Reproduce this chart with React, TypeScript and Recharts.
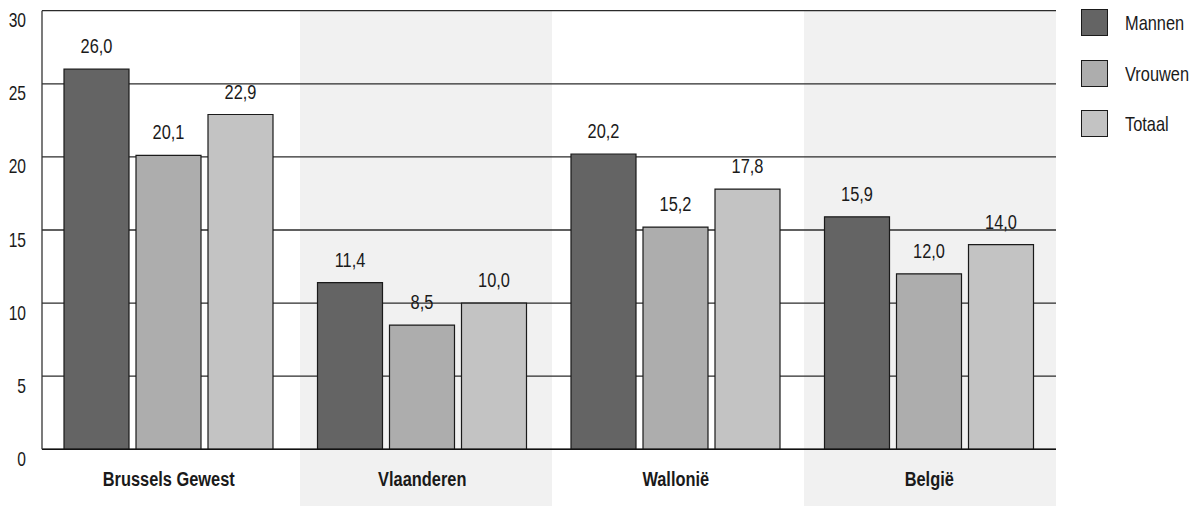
import React from "react";
import {
  BarChart,
  Bar,
  XAxis,
  YAxis,
  CartesianGrid,
  ReferenceArea,
  LabelList,
  Legend,
} from "recharts";

const categories = ["Brussels Gewest", "Vlaanderen", "Wallonië", "België"];
const mannen = [26.0, 11.4, 20.2, 15.9];
const vrouwen = [20.1, 8.5, 15.2, 12.0];
const totaal = [22.9, 10.0, 17.8, 14.0];
const yTicks = [0, 5, 10, 15, 20, 25, 30];
const shadedCategories = ["Vlaanderen", "België"];

const seriesNames = ["Mannen", "Vrouwen", "Totaal"];
const seriesColors = ["#646464", "#adadad", "#c3c3c3"];

const data = categories.map((c, i) => ({
  name: c,
  Mannen: mannen[i],
  Vrouwen: vrouwen[i],
  Totaal: totaal[i],
}));

const FONT = "'Liberation Sans', Arial, sans-serif";
const SX = 0.78; // horizontal compression to imitate a condensed face

const fmt = (v: number) => v.toFixed(1).replace(".", ",");

const NarrowText = ({ x, y, anchor, size, bold, children }: any) => (
  <g transform={`translate(${x},${y}) scale(${SX},1)`}>
    <text
      x={0}
      y={0}
      textAnchor={anchor}
      fontFamily={FONT}
      fontSize={size}
      fontWeight={bold ? "bold" : "normal"}
      fill="#1a1a1a"
    >
      {children}
    </text>
  </g>
);

const YTick = (props: any) => {
  const { x, y, payload } = props;
  return (
    <NarrowText x={x} y={y + 16.5} anchor="end" size={20}>
      {payload.value}
    </NarrowText>
  );
};

const XTick = (props: any) => {
  const { x, y, payload } = props;
  return (
    <NarrowText x={x} y={y + 37} anchor="middle" size={21} bold>
      {payload.value}
    </NarrowText>
  );
};

const ValueLabel = (props: any) => {
  const { x, y, width, value } = props;
  return (
    <NarrowText x={x + width / 2} y={y - 16} anchor="middle" size={21}>
      {fmt(value)}
    </NarrowText>
  );
};

const LegendContent = () => (
  <div style={{ fontFamily: FONT }}>
    {seriesNames.map((n, i) => (
      <div key={n} style={{ display: "flex", alignItems: "center", height: 27, marginBottom: i < 2 ? 23.5 : 0 }}>
        <div
          style={{
            width: 25,
            height: 25,
            background: seriesColors[i],
            border: "1px solid #1a1a1a",
            flex: "none",
          }}
        />
        <span
          style={{
            marginLeft: 17,
            fontSize: 21,
            color: "#1a1a1a",
            lineHeight: "27px",
            whiteSpace: "nowrap",
            display: "inline-block",
            transform: `scaleX(${SX})`,
            transformOrigin: "left center",
          }}
        >
          {n}
        </span>
      </div>
    ))}
  </div>
);

export default function App() {
  return (
    <div style={{ position: "absolute", left: 0, top: 0, width: 1197, height: 506, background: "#fff" }}>
      <BarChart
        width={1197}
        height={506}
        data={data}
        margin={{ top: 10.7, right: 141, bottom: 0, left: 0 }}
        barCategoryGap={22}
        barGap={7}
      >
        <XAxis
          dataKey="name"
          xAxisId="band"
          hide
          padding={{ left: 6, right: 0 }}
        />
        {shadedCategories.map((c) => (
          <ReferenceArea
            key={c}
            xAxisId="band"
            x1={c}
            x2={c}
            y1={-4}
            y2={30}
            ifOverflow="visible"
            fill="#f1f1f1"
            fillOpacity={1}
            stroke="none"
            zIndex={-200}
          />
        ))}
        <CartesianGrid vertical={false} stroke="#2b2b2b" strokeWidth={1.3} zIndex={-100} />
        <XAxis
          dataKey="name"
          height={56.7}
          tickSize={0}
          tickMargin={0}
          tickLine={false}
          axisLine={{ stroke: "#111", strokeWidth: 1.6 }}
          tick={<XTick />}
          interval={0}
        />
        <YAxis
          width={42}
          domain={[0, 30]}
          ticks={yTicks}
          tickSize={0}
          tickMargin={16}
          tickLine={false}
          axisLine={{ stroke: "#333", strokeWidth: 1.3 }}
          tick={<YTick />}
          interval={0}
        />
        <Legend
          layout="vertical"
          align="center"
          verticalAlign="middle"
          content={<LegendContent />}
          wrapperStyle={{ left: 1081, top: 9, width: 116, height: 140 }}
        />
        {seriesNames.map((n, i) => (
          <Bar
            key={n}
            dataKey={n}
            fill={seriesColors[i]}
            stroke="#1a1a1a"
            strokeWidth={1.2}
            isAnimationActive={false}
          >
            <LabelList dataKey={n} content={<ValueLabel />} />
          </Bar>
        ))}
      </BarChart>
    </div>
  );
}
